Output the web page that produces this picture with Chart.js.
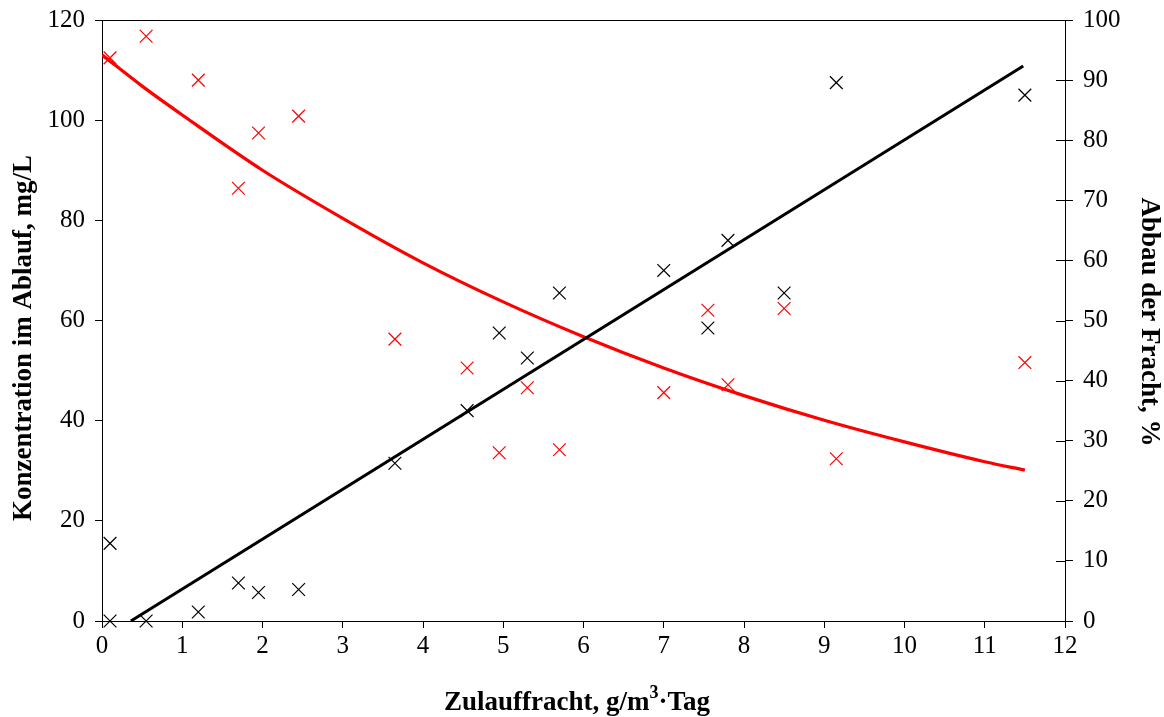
<!DOCTYPE html>
<html>
<head>
<meta charset="utf-8">
<script src="https://cdn.jsdelivr.net/npm/chart.js@4"></script>
<style>
  html, body { margin: 0; padding: 0; background: #fff; }
  #wrap { width: 1164px; height: 717px; }
</style>
</head>
<body>
<div id="wrap"><canvas id="chart"></canvas></div>
<script>
// Zulauffracht (g/m3*Tag) for each measurement
const load = [0.1, 0.1, 0.55, 1.2, 1.7, 1.95, 2.45, 3.65, 4.55, 4.95, 5.3, 5.7, 7.0, 7.55, 7.8, 8.5, 9.15, 11.5];
// Konzentration im Ablauf, mg/L (left axis, black)
const concentration = [15.5, 0, 0, 1.8, 7.6, 5.7, 6.3, 31.5, 42, 57.5, 52.5, 65.5, 70, 58.5, 76, 65.5, 107.5, 105];
// Abbau der Fracht, % (right axis, red)
const removal = [93.7, null, 97.3, 90, 72, 81.2, 84, 46.9, 42.1, 28, 38.8, 28.5, 38, 51.7, 39.3, 52, 27, 43];

// trend lines
const linTrendX = [0.36, 11.48];
const linTrendY = [0, 110.8];
const expTrendX = [0, 0.5, 1, 2, 3, 4, 5, 6, 7, 8, 9, 10, 11, 11.5];
const expTrendY = [94.2, 89, 84.2, 75, 67, 59.6, 53.1, 47.3, 42.1, 37.5, 33.4, 29.8, 26.5, 25.1];

const xTicks = [0, 1, 2, 3, 4, 5, 6, 7, 8, 9, 10, 11, 12];
const leftTicks = [0, 20, 40, 60, 80, 100, 120];
const rightTicks = [0, 10, 20, 30, 40, 50, 60, 70, 80, 90, 100];

const xTitle = ['Zulauffracht, g/m', '3', '·Tag'];
const yTitle = 'Konzentration im Ablauf, mg/L';
const y1Title = 'Abbau der Fracht, %';

const pts = (xs, ys) => xs.map((x, i) => ({ x: x, y: ys[i] })).filter(p => p.y !== null);

const serif = '"Liberation Serif", "Times New Roman", serif';

// keep the plot box where the original has it
const noPad = s => { s.paddingTop = 0; s.paddingBottom = 0; s.paddingLeft = 0; s.paddingRight = 0; };

// top frame line, inner half of the right-axis ticks, axis titles
const frame = {
  id: 'frame',
  afterDraw(chart) {
    const { ctx, chartArea: a, scales } = chart;
    ctx.save();
    ctx.strokeStyle = '#000';
    ctx.lineWidth = 1;
    ctx.beginPath();
    ctx.moveTo(a.left - 7, a.top + 0.5);
    ctx.lineTo(a.right + 8, a.top + 0.5);
    scales.y1.ticks.forEach(t => {
      const py = Math.round(scales.y1.getPixelForValue(t.value)) + 0.5;
      ctx.moveTo(a.right - 9, py);
      ctx.lineTo(a.right, py);
    });
    ctx.stroke();

    ctx.fillStyle = '#000';
    ctx.textBaseline = 'middle';
    const big = 'bold 27px ' + serif;
    const small = 'bold 18px ' + serif;

    // x title with superscript
    ctx.font = big;
    const w0 = ctx.measureText(xTitle[0]).width;
    const w2 = ctx.measureText(xTitle[2]).width;
    ctx.font = small;
    const w1 = ctx.measureText(xTitle[1]).width;
    let x = 577 - (w0 + w1 + w2) / 2;
    const y = 703;
    ctx.textAlign = 'left';
    ctx.font = big;
    ctx.fillText(xTitle[0], x, y);
    ctx.font = small;
    ctx.fillText(xTitle[1], x + w0, y - 10);
    ctx.font = big;
    ctx.fillText(xTitle[2], x + w0 + w1, y);

    ctx.textAlign = 'center';
    ctx.save();
    ctx.translate(24, 338);
    ctx.rotate(-Math.PI / 2);
    ctx.fillText(yTitle, 0, 0);
    ctx.restore();

    ctx.save();
    ctx.translate(1149, 322);
    ctx.rotate(Math.PI / 2);
    ctx.fillText(y1Title, 0, 0);
    ctx.restore();
    ctx.restore();
  }
};

new Chart(document.getElementById('chart'), {
  type: 'scatter',
  data: {
    datasets: [
      { label: 'Konzentration', data: pts(load, concentration), yAxisID: 'y', clip: false,
        pointStyle: 'crossRot', pointRadius: 9, pointHoverRadius: 9, borderColor: '#000', borderWidth: 1.2 },
      { label: 'Abbau', data: pts(load, removal), yAxisID: 'y1', clip: false,
        pointStyle: 'crossRot', pointRadius: 9, pointHoverRadius: 9, borderColor: '#ff0000', borderWidth: 1.2 },
      { label: 'Trend Konzentration', type: 'line', data: pts(linTrendX, linTrendY), yAxisID: 'y',
        borderColor: '#000', borderWidth: 3, pointRadius: 0, fill: false },
      { label: 'Trend Abbau', type: 'line', data: pts(expTrendX, expTrendY), yAxisID: 'y1',
        borderColor: '#ff0000', borderWidth: 3.2, pointRadius: 0, fill: false, cubicInterpolationMode: 'monotone' }
    ]
  },
  options: {
    responsive: true,
    maintainAspectRatio: false,
    animation: false,
    layout: { padding: { top: 20, left: 0, right: 0, bottom: 0 } },
    plugins: { legend: { display: false }, tooltip: { enabled: false } },
    scales: {
      x: {
        type: 'linear', min: 0, max: 12,
        afterFit: s => { noPad(s); s.height = 96; },
        afterBuildTicks: s => { s.ticks = xTicks.map(v => ({ value: v })); },
        grid: { drawOnChartArea: false, tickLength: 7, color: '#000' },
        border: { color: '#000', width: 1 },
        ticks: { color: '#000', padding: 3, font: { family: serif, size: 25 }, maxRotation: 0 },
        title: { display: false }
      },
      y: {
        type: 'linear', position: 'left', min: 0, max: 120,
        afterFit: s => { noPad(s); s.width = 102; },
        afterBuildTicks: s => { s.ticks = leftTicks.map(v => ({ value: v })); },
        grid: { drawOnChartArea: false, tickLength: 7, color: '#000' },
        border: { color: '#000', width: 1 },
        ticks: { color: '#000', padding: 10, font: { family: serif, size: 25 } },
        title: { display: false }
      },
      y1: {
        type: 'linear', position: 'right', min: 0, max: 100,
        afterFit: s => { noPad(s); s.width = 99; },
        afterBuildTicks: s => { s.ticks = rightTicks.map(v => ({ value: v })); },
        grid: { drawOnChartArea: false, tickLength: 8, color: '#000' },
        border: { color: '#000', width: 1 },
        ticks: { color: '#000', padding: 10, font: { family: serif, size: 25 } },
        title: { display: false }
      }
    }
  },
  plugins: [frame]
});
</script>
</body>
</html>
